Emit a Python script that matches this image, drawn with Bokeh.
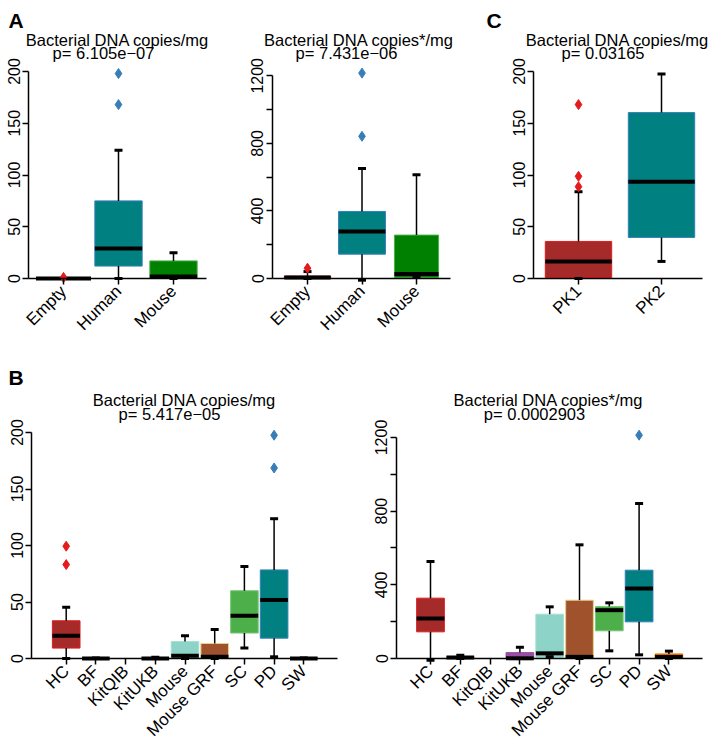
import math
from bokeh.plotting import figure
from bokeh.layouts import row, column
from bokeh.models import Range1d, FixedTicker, Label
from bokeh.embed import file_html
from bokeh.resources import INLINE

FONT = "Liberation Sans"
NaN = float("nan")

# ---------------- Panel A (left): Bacterial DNA copies/mg ----------------
a1_cats = ["Empty", "Human", "Mouse"]
a1_lo = [0, 0, 0]
a1_q1 = [0, 12, 0]
a1_med = [0, 29, 2]
a1_q3 = [0, 75, 17]
a1_hi = [0, 124, 25]
a1_out_cat = ["Empty", "Human", "Human"]
a1_out_val = [1, 168, 198]
a1_width = [1.0, 0.86, 0.86]
a1_fill = ["#A52A2A", "#008080", "#008000"]
a1_line = ["#E41A1C", "#377EB8", "#4DAF4A"]

# ---------------- Panel A (right): Bacterial DNA copies*/mg ----------------
a2_cats = ["Empty", "Human", "Mouse"]
a2_lo = [0, -10, 10]
a2_q1 = [0, 144, 6]
a2_med = [6, 279, 26]
a2_q3 = [14, 397, 257]
a2_hi = [41, 652, 615]
a2_out_cat = ["Empty", "Human", "Human"]
a2_out_val = [61, 842, 1216]
a2_width = [0.85, 0.86, 0.81]
a2_fill = ["#A52A2A", "#008080", "#008000"]
a2_line = ["#E41A1C", "#377EB8", "#4DAF4A"]

# ---------------- Panel C ----------------
c_cats = ["PK1", "PK2"]
c_lo = [0, 16.5]
c_q1 = [1, 39.7]
c_med = [16.5, 93.5]
c_q3 = [35.8, 160.3]
c_hi = [83.9, 197.7]
c_out_cat = ["PK1", "PK1", "PK1"]
c_out_val = [88.7, 98.7, 168]
c_width = [0.8, 0.8]
c_fill = ["#A52A2A", "#008080"]
c_line = ["#E41A1C", "#377EB8"]

# ---------------- Panel B ----------------
b_cats = ["HC", "BF", "KitQIB", "KitUKB", "Mouse", "Mouse GRF", "SC", "PD", "SW"]
b_width = [0.93] * 9
b_fill = ["#A52A2A", "#FFFF99", "#FFFFFF", "#984EA3", "#8DD3C7",
          "#A0522D", "#4DAF4A", "#008080", "#FF7F00"]
b_line = ["#E41A1C", "#CCCC66", "#FFFFFF", "#984EA3", "#A8E0D5",
          "#E6D38C", "#7BC97B", "#377EB8", "#FF7F00"]

b1_lo = [0, 0, NaN, 0, 0, 0, 9.2, 1.5, 0]
b1_q1 = [9.2, 0, NaN, 0, 0, 0, 22.5, 18, 0]
b1_med = [20.1, 0, NaN, 0, 2.4, 1.5, 37.9, 51.8, 0]
b1_q3 = [33.4, 0.3, NaN, 0.3, 15.1, 13.3, 60, 78.4, 0.3]
b1_hi = [45.3, 0.5, NaN, 1, 20.1, 25.7, 81.4, 123.7, 0.5]
b1_out_cat = ["HC", "HC", "PD", "PD"]
b1_out_val = [83.1, 99.4, 168.6, 197.6]

b2_lo = [-10, 0, NaN, 0, 10, 0, 41.6, 19.9, 0]
b2_q1 = [144.8, 2, NaN, 0, 5, 0, 150.2, 199, 3]
b2_med = [217.2, 6, NaN, 1, 28, 9, 262.4, 380, 9]
b2_q3 = [327.6, 10, NaN, 32, 240.7, 316.7, 282.4, 479.6, 25]
b2_hi = [526.7, 17, NaN, 61, 280.5, 617.2, 302.3, 841.6, 40]
b2_out_cat = ["PD"]
b2_out_val = [1212.7]

YTICK_FONT_SIZE = "16px"
XTICK_FONT_SIZE = "17px"
TITLE_FONT_SIZE = "16.5px"


def panel(cats, widths, lo, q1, med, q3, hi, out_cat, out_val, fills, lines,
          yticks, yminor, ytop, g, title, ptext, texts, letter=None):
    """g: layout geometry in page pixels: figure box, first category pixel,
    pixels per category, zero line pixel, pixels per y unit, axis extents."""
    fx0, fx1, fy0, fy1 = g["fig"]

    def X(px):
        return 1 + (px - g["c1"]) / g["ppx"]

    def Y(py):
        return (g["y0"] - py) / g["ppu"]

    p = figure(width=int(fx1 - fx0), height=int(fy1 - fy0),
               x_range=Range1d(X(fx0), X(fx1)), y_range=Range1d(Y(fy1), Y(fy0)),
               output_backend="svg", toolbar_location=None,
               min_border_left=0, min_border_right=0, min_border_top=0, min_border_bottom=0)
    p.title.visible = False
    p.outline_line_color = None
    p.xgrid.visible = False
    p.ygrid.visible = False
    p.background_fill_color = "white"
    p.border_fill_color = "white"

    n = len(cats)
    pos = [i + 1 for i in range(n)]
    keep = [i for i in range(n) if not math.isnan(med[i])]
    px = [pos[i] for i in keep]
    hw = [widths[i] / 2 for i in keep]

    # boxes
    p.quad(left=[x - h_ for x, h_ in zip(px, hw)], right=[x + h_ for x, h_ in zip(px, hw)],
           bottom=[q1[i] for i in keep], top=[q3[i] for i in keep],
           fill_color=[fills[i] for i in keep], line_color=[lines[i] for i in keep],
           line_width=1)
    # whiskers
    p.segment(x0=px, y0=[q3[i] for i in keep], x1=px, y1=[hi[i] for i in keep],
              line_color="black", line_width=1.5)
    p.segment(x0=px, y0=[q1[i] for i in keep], x1=px, y1=[lo[i] for i in keep],
              line_color="black", line_width=1.5)
    # caps
    p.scatter(x=px + px, y=[hi[i] for i in keep] + [lo[i] for i in keep],
              marker="dash", size=8, line_width=3, line_color="black")
    # medians
    p.segment(x0=[x - h_ for x, h_ in zip(px, hw)], x1=[x + h_ for x, h_ in zip(px, hw)],
              y0=[med[i] for i in keep], y1=[med[i] for i in keep],
              line_color="black", line_width=4)
    # outliers
    ox = [cats.index(c) + 1 for c in out_cat]
    oc = [lines[cats.index(c)] for c in out_cat]
    p.scatter(x=ox, y=out_val, marker="diamond", size=10, fill_color=oc, line_color=oc)

    x_left = X(g["axis_x"])
    x_right = X(g["right"])

    # y axis (R style: placed at the left edge of the plot region)
    ya = p.yaxis[0]
    ya.fixed_location = x_left
    ya.ticker = FixedTicker(ticks=yticks, minor_ticks=yminor)
    ya.bounds = (0, ytop)
    ya.major_label_orientation = "vertical"
    ya.major_label_text_font = FONT
    ya.major_label_text_font_size = YTICK_FONT_SIZE
    ya.major_label_text_color = "black"
    ya.major_label_standoff = 3
    ya.axis_line_width = 1.5
    ya.major_tick_line_width = 1.5
    ya.minor_tick_line_width = 1.5
    ya.major_tick_in = 0
    ya.major_tick_out = 6
    ya.minor_tick_in = 0
    ya.minor_tick_out = 6
    ya.minor_tick_line_color = "black"

    # x axis at zero
    xa = p.xaxis[0]
    xa.fixed_location = 0
    xa.bounds = (x_left, x_right)
    xa.ticker = FixedTicker(ticks=pos)
    xa.major_label_overrides = {i + 1: c for i, c in enumerate(cats)}
    xa.major_label_orientation = math.pi / 4
    xa.major_label_text_font = FONT
    xa.major_label_text_font_size = XTICK_FONT_SIZE
    xa.major_label_text_color = "black"
    xa.major_label_standoff = 4
    xa.axis_line_width = 1.5
    xa.major_tick_line_width = 1.5
    xa.major_tick_in = 0
    xa.major_tick_out = 6

    (tx, ty), (ppx_, ppy_), (lx, ly) = texts
    p.add_layout(Label(x=X(tx), y=Y(ty), text=title, text_align="center",
                       text_baseline="alphabetic", text_font=FONT,
                       text_font_size=TITLE_FONT_SIZE, text_color="black"))
    p.add_layout(Label(x=X(ppx_), y=Y(ppy_), text=ptext, text_align="center",
                       text_baseline="alphabetic", text_font=FONT,
                       text_font_size=TITLE_FONT_SIZE, text_color="black"))
    if letter:
        p.add_layout(Label(x=X(lx), y=Y(ly), text=letter, text_align="left",
                           text_baseline="alphabetic", text_font=FONT,
                           text_font_size="21px", text_font_style="bold",
                           text_color="black"))
    return p


# geometry in page pixels (the Bokeh page itself has no body margin)
gA1 = dict(fig=(0, 230, 0, 345), c1=63, ppx=55, y0=278, ppu=1.035, axis_x=28, right=206)
gA2 = dict(fig=(230, 460, 0, 345), c1=307, ppx=54.5, y0=278, ppu=0.1689, axis_x=272, right=450)
gC = dict(fig=(460, 709, 0, 345), c1=578, ppx=83, y0=278, ppu=1.035, axis_x=533, right=702)
gB1 = dict(fig=(0, 350, 345, 739), c1=65.7, ppx=29.7, y0=658, ppu=1.13, axis_x=31, right=337)
gB2 = dict(fig=(350, 709, 345, 739), c1=430, ppx=29.8, y0=658, ppu=0.18417, axis_x=396, right=702)

pA1 = panel(a1_cats, a1_width, a1_lo, a1_q1, a1_med, a1_q3, a1_hi, a1_out_cat, a1_out_val,
            a1_fill, a1_line, [0, 50, 100, 150, 200], [], 200, gA1,
            "Bacterial DNA copies/mg", "p= 6.105e\u221207",
            ((117, 39), (103, 52), (8, 20)), letter="A")

pA2 = panel(a2_cats, a2_width, a2_lo, a2_q1, a2_med, a2_q3, a2_hi, a2_out_cat, a2_out_val,
            a2_fill, a2_line, [0, 400, 800, 1200], [200, 600, 1000], 1200, gA2,
            "Bacterial DNA copies*/mg", "p= 7.431e\u221206",
            ((358.5, 39), (346, 52), (0, 0)))

pC = panel(c_cats, c_width, c_lo, c_q1, c_med, c_q3, c_hi, c_out_cat, c_out_val,
           c_fill, c_line, [0, 50, 100, 150, 200], [], 200, gC,
           "Bacterial DNA copies/mg", "p= 0.03165",
           ((617, 39), (602.5, 52), (486, 20)), letter="C")

pB1 = panel(b_cats, b_width, b1_lo, b1_q1, b1_med, b1_q3, b1_hi, b1_out_cat, b1_out_val,
            b_fill, b_line, [0, 50, 100, 150, 200], [], 200, gB1,
            "Bacterial DNA copies/mg", "p= 5.417e\u221205",
            ((184, 399), (169, 413), (8, 377)), letter="B")

pB2 = panel(b_cats, b_width, b2_lo, b2_q1, b2_med, b2_q3, b2_hi, b2_out_cat, b2_out_val,
            b_fill, b_line, [0, 400, 800, 1200], [200, 600, 1000], 1200, gB2,
            "Bacterial DNA copies*/mg", "p= 0.0002903",
            ((548, 399), (534, 413), (0, 0)))

layout = column(row(pA1, pA2, pC, spacing=0), row(pB1, pB2, spacing=0), spacing=0)

open("out.html", "w").write(file_html(layout, INLINE))
